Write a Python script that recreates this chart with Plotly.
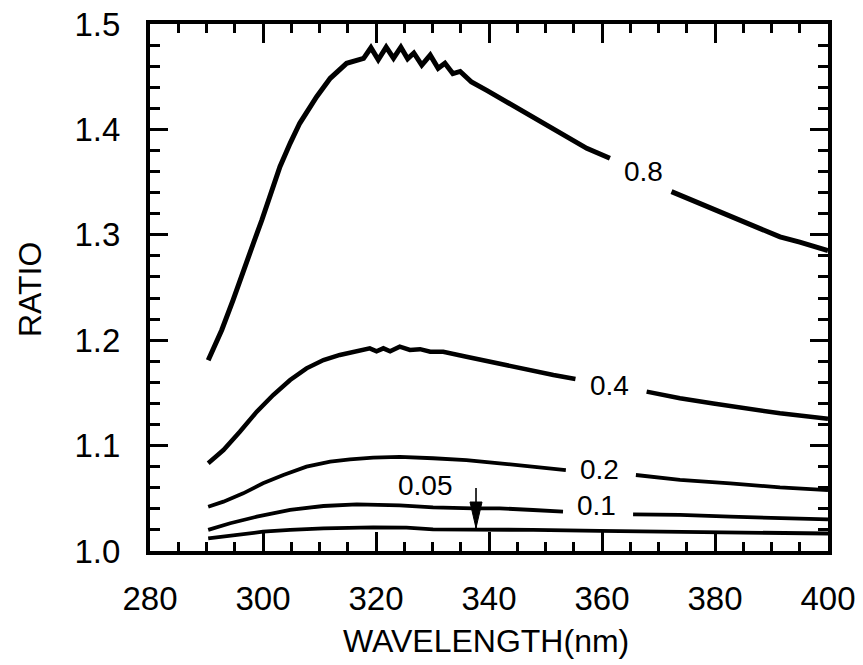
import plotly.graph_objects as go

# ---- data ----
wl_08 = [290.3, 292.7, 294.7, 296.5, 298.3, 299.8, 301.2, 303.0, 304.8, 306.5, 309.5, 311.9,
         314.8, 317.8, 319.1, 320.4, 321.8, 323.1, 324.4, 325.6, 326.7, 328.1, 329.6, 331.0,
         332.2, 333.6, 334.9, 336.9, 339.6, 343.1, 346.7, 350.2, 353.7, 357.3, 361.4, None,
         372.3, 377.3, 382.1, 386.8, 391.5, 395.0, 400.0]
r_08 = [1.181, 1.2097, 1.238, 1.2666, 1.292, 1.314, 1.336, 1.3646, 1.3868, 1.4058, 1.431, 1.4485,
        1.4627, 1.4674, 1.4775, 1.4660, 1.4780, 1.4675, 1.4780, 1.4670, 1.4725, 1.4610, 1.4705, 1.4580,
        1.4627, 1.4530, 1.4550, 1.445, 1.437, 1.426, 1.415, 1.404, 1.393, 1.382, 1.3726, None,
        1.341, 1.330, 1.319, 1.309, 1.298, 1.293, 1.285]

wl_04 = [290.3, 293.0, 295.9, 298.9, 301.8, 304.8, 307.7, 310.7, 313.6, 316.6, 318.9, 320.1,
         321.3, 322.5, 324.2, 326.0, 327.8, 329.6, 331.9, 336.0, 340.2, 343.7, 347.8, 351.4,
         355.3, None, 367.9, 373.8, 379.7, 385.6, 391.5, 400.0]
r_04 = [1.0832, 1.0958, 1.1132, 1.1322, 1.148, 1.1622, 1.1733, 1.1812, 1.186, 1.189, 1.1923, 1.1895,
        1.1923, 1.1895, 1.1938, 1.1907, 1.1915, 1.189, 1.189, 1.1843, 1.1796, 1.1749, 1.1701, 1.167,
        1.1632, None, 1.1512, 1.1449, 1.140, 1.1354, 1.1306, 1.1255]

wl_02 = [290.3, 293.0, 296.5, 300.0, 303.6, 307.7, 311.9, 315.4, 319.5, 324.2, 330.1, 336.0,
         341.9, 347.8, 353.6, None, 366.0, 373.8, 382.7, 391.5, 400.0]
r_02 = [1.042, 1.0468, 1.0547, 1.0642, 1.0721, 1.080, 1.0847, 1.087, 1.0885, 1.0893, 1.088, 1.0863,
        1.0832, 1.080, 1.0768, None, 1.0721, 1.0674, 1.0642, 1.0604, 1.0578]

wl_01 = [290.3, 294.2, 298.9, 304.8, 310.7, 316.6, 324.2, 330.1, 337.2, 341.9, 347.8, 353.1,
         None, 365.5, 373.8, 382.7, 391.5, 400.0]
r_01 = [1.020, 1.0263, 1.0326, 1.039, 1.0427, 1.0443, 1.0432, 1.0414, 1.0405, 1.0405, 1.0389, 1.0373,
        None, 1.0348, 1.0342, 1.0326, 1.031, 1.030]

wl_005 = [290.3, 295.3, 300.0, 304.8, 310.7, 319.5, 325.4, 330.1, 337.7, 347.8, 359.6, 370.0,
          380.0, 390.0, 400.0]
r_005 = [1.012, 1.0152, 1.0183, 1.020, 1.0215, 1.0225, 1.0221, 1.0206, 1.0206, 1.020, 1.019, 1.0185,
         1.0178, 1.0172, 1.0166]

curve_labels = ["0.8", "0.4", "0.2", "0.1", "0.05"]
label_x = [367.4, 361.4, 359.6, 359.1, 328.8]
label_y = [1.3596, 1.1575, 1.0778, 1.0427, 1.0617]

arrow_x = 337.7
arrow_tail = 1.0598
arrow_tip = 1.0218

x_ticks = [280, 300, 320, 340, 360, 380, 400]
y_ticks = [1.0, 1.1, 1.2, 1.3, 1.4, 1.5]
x_major_step = 20
y_major_step = 0.1
x_minor_step = 5
y_minor_step = 0.02

X_RANGE = [280, 400]
Y_RANGE = [1.0, 1.5]

# ---- figure ----
FONT = "Liberation Sans, Arial, Helvetica, sans-serif"
fig = go.Figure()

series = [(wl_08, r_08, 5, "x", "y"), (wl_04, r_04, 4.5, "x", "y"),
          (wl_02, r_02, 3.8, "x4", "y4"), (wl_01, r_01, 3.8, "x3", "y3"),
          (wl_005, r_005, 3.8, "x2", "y2")]
for xs, ys, w, xa, ya in series:
    fig.add_trace(go.Scatter(x=xs, y=ys, mode="lines", connectgaps=False, xaxis=xa, yaxis=ya,
                             line=dict(color="black", width=w), showlegend=False,
                             hoverinfo="skip"))

fig.add_trace(go.Scatter(x=[arrow_x, arrow_x], y=[arrow_tail, arrow_tip], mode="lines",
                         line=dict(color="black", width=1.6), showlegend=False, hoverinfo="skip"))
px_per_nm = 678 / 120.0
px_per_unit = 527 / 0.5
hw = 6 / px_per_nm
hl = 26 / px_per_unit
fig.add_trace(go.Scatter(x=[arrow_x - hw, arrow_x + hw, arrow_x, arrow_x - hw],
                         y=[arrow_tip + hl, arrow_tip + hl, arrow_tip, arrow_tip + hl],
                         mode="lines", fill="toself", fillcolor="black",
                         line=dict(color="black", width=1), showlegend=False, hoverinfo="skip"))

for t, lx, ly in zip(curve_labels, label_x, label_y):
    fig.add_annotation(x=lx, y=ly, text=t, showarrow=False,
                       font=dict(family=FONT, size=28, color="black"),
                       xanchor="center", yanchor="middle")

tickfont = dict(family=FONT, size=33, color="black")
clear = "rgba(0,0,0,0)"
plain = dict(showgrid=False, zeroline=False)

fig.update_layout(
    # frame
    xaxis=dict(range=X_RANGE, ticks="", showline=True, linecolor="black", linewidth=4,
               mirror=True, showticklabels=False, **plain),
    yaxis=dict(range=Y_RANGE, ticks="", showline=True, linecolor="black", linewidth=4,
               mirror=True, showticklabels=False, **plain),
    # tick labels, spaced off the frame by clear outside ticks
    xaxis2=dict(range=X_RANGE, overlaying="x", anchor="y2", side="bottom", tickvals=x_ticks,
                ticks="outside", ticklen=18, tickcolor=clear, showline=False,
                tickfont=tickfont, **plain),
    yaxis2=dict(range=Y_RANGE, overlaying="y", anchor="x2", side="left", tickvals=y_ticks,
                tickformat=".1f", ticks="outside", ticklen=22, tickcolor=clear,
                showline=False, tickfont=tickfont, **plain),
    # minor ticks
    xaxis3=dict(range=X_RANGE, overlaying="x", anchor="y3", side="bottom", tick0=X_RANGE[0],
                dtick=x_minor_step, ticks="inside", ticklen=9, tickwidth=2.5, tickcolor="black",
                mirror="ticks", showline=False, showticklabels=False, **plain),
    yaxis3=dict(range=Y_RANGE, overlaying="y", anchor="x3", side="left", tick0=Y_RANGE[0],
                dtick=y_minor_step, ticks="inside", ticklen=10, tickwidth=2.5, tickcolor="black",
                mirror="ticks", showline=False, showticklabels=False, **plain),
    # major ticks
    xaxis4=dict(range=X_RANGE, overlaying="x", anchor="y4", side="bottom", tick0=X_RANGE[0],
                dtick=x_major_step, ticks="inside", ticklen=19, tickwidth=3, tickcolor="black",
                mirror="ticks", showline=False, showticklabels=False, **plain),
    yaxis4=dict(range=Y_RANGE, overlaying="y", anchor="x4", side="left", tick0=Y_RANGE[0],
                dtick=y_major_step, ticks="inside", ticklen=18, tickwidth=3, tickcolor="black",
                mirror="ticks", showline=False, showticklabels=False, **plain),
    width=863, height=665, margin=dict(l=150, r=35, t=24, b=114),
    template="none", plot_bgcolor="white", paper_bgcolor="white", showlegend=False,
)

fig.add_annotation(xref="paper", yref="paper", x=0.4956, y=(551 - 641) / 527,
                   text="WAVELENGTH(nm)", showarrow=False, xanchor="center", yanchor="middle",
                   font=dict(family=FONT, size=32, color="black"))
fig.add_annotation(xref="paper", yref="paper", x=(30 - 150) / 678, y=(551 - 290) / 527,
                   text="RATIO", showarrow=False, textangle=-90, xanchor="center",
                   yanchor="middle", font=dict(family=FONT, size=32, color="black"))

fig.write_html("out.html", config={"displayModeBar": False},
               post_script="document.body.style.margin='0';")
